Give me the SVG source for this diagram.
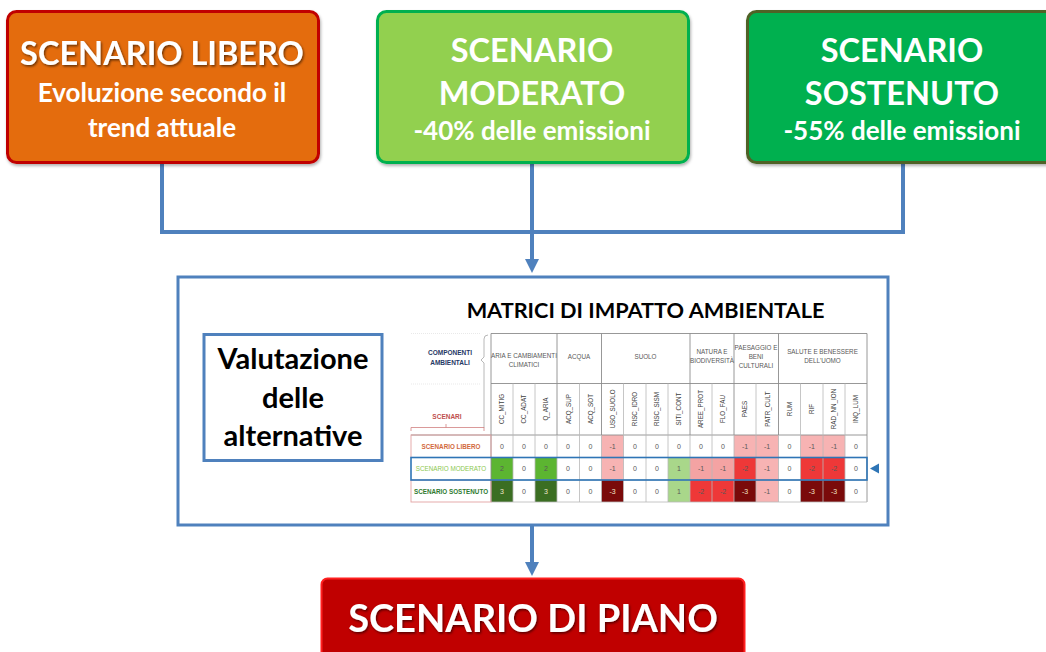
<svg xmlns="http://www.w3.org/2000/svg" width="1046" height="652" viewBox="0 0 1046 652">
<defs>
<style>
.big{font-family:Lato,"Open Sans","Liberation Sans",sans-serif;font-weight:700;fill:#fff;text-anchor:middle}
.t1{font-size:32.5px}
.t2{font-size:26px}
.blk{font-family:Lato,"Open Sans","Liberation Sans",sans-serif;font-weight:700;fill:#000;text-anchor:middle}
.conn{stroke:#4F81BD;stroke-width:4;fill:none}
.sm{font-family:"Liberation Sans",Arial,sans-serif;font-size:6.3px;fill:#595959;text-anchor:middle}
.rot{font-family:"Liberation Sans",Arial,sans-serif;font-size:6.3px;fill:#404040;text-anchor:middle}
.val{font-family:"Liberation Sans",Arial,sans-serif;font-size:7px;fill:#595959;text-anchor:middle}
.vl{fill:#F2E6C8}
.g{stroke:#B8B8B8;stroke-width:0.8;fill:none}
.gd{stroke:#8C8C8C;stroke-width:0.9;fill:none}
.m1{fill:#F7B3B3}.m2{fill:#EE3838}.m3{fill:#7A0A0A}
.p1{fill:#A9D78A}.p2{fill:#5CB531}.p3{fill:#3B6E22}
</style>
<filter id="ts" x="-10%" y="-20%" width="120%" height="140%">
<feDropShadow dx="1.2" dy="1.5" stdDeviation="1" flood-color="#000" flood-opacity="0.55"/>
</filter>
<filter id="bs" x="-5%" y="-5%" width="110%" height="115%">
<feDropShadow dx="1" dy="2" stdDeviation="1.5" flood-color="#000" flood-opacity="0.3"/>
</filter>
<marker id="ah" viewBox="0 0 14 14" refX="0" refY="7" markerWidth="14" markerHeight="14" markerUnits="userSpaceOnUse" orient="auto">
<path d="M0,0 L14,7 L0,14 z" fill="#4F81BD"/>
</marker>
</defs>
<rect width="1046" height="652" fill="#fff"/>

<g id="connectors">
<path class="conn" d="M162,163 V232 H903 V163"/>
<path class="conn" d="M532,163 V259" marker-end="url(#ah)"/>
<path class="conn" d="M532,526 V562" marker-end="url(#ah)"/>
</g>

<g id="scenario-libero">
<rect x="7.5" y="11.5" width="311" height="151" rx="9" fill="#E46C0A" stroke="#C00000" stroke-width="3" filter="url(#bs)"/>
<text class="big t1" x="162" y="65" filter="url(#ts)">SCENARIO LIBERO</text>
<text class="big t2" x="162" y="102">Evoluzione secondo il</text>
<text class="big t2" x="162" y="137">trend attuale</text>
</g>

<g id="scenario-moderato">
<rect x="377.5" y="11.5" width="311" height="151" rx="9" fill="#92D050" stroke="#00B050" stroke-width="3" filter="url(#bs)"/>
<text class="big t1" x="532" y="62">SCENARIO</text>
<text class="big t1" x="532" y="105">MODERATO</text>
<text class="big t2" x="532" y="140">-40% delle emissioni</text>
</g>

<g id="scenario-sostenuto">
<rect x="747.5" y="11.5" width="311" height="151" rx="9" fill="#00B050" stroke="#4F6228" stroke-width="3" filter="url(#bs)"/>
<text class="big t1" x="902" y="62">SCENARIO</text>
<text class="big t1" x="902" y="105">SOSTENUTO</text>
<text class="big t2" x="902" y="140">-55% delle emissioni</text>
</g>

<g id="valutazione-container">
<rect x="178" y="277" width="710" height="248" fill="#fff" stroke="#4F81BD" stroke-width="3"/>
</g>

<g id="valutazione-alternative">
<rect x="204" y="334.5" width="178" height="126" fill="#fff" stroke="#4F81BD" stroke-width="3"/>
<text class="blk" x="293" y="369" font-size="29">Valutazione</text>
<text class="blk" x="293" y="408" font-size="29">delle</text>
<text class="blk" x="293" y="446" font-size="29">alternative</text>
</g>

<g id="matrice">
<text class="blk" x="645.5" y="318" font-size="21.7">MATRICI DI IMPATTO AMBIENTALE</text>

<!-- left header labels -->
<text x="450" y="355" font-family="'Liberation Sans',Arial,sans-serif" font-size="6.5" font-weight="700" fill="#1F3864" text-anchor="middle">COMPONENTI</text>
<text x="450" y="365" font-family="'Liberation Sans',Arial,sans-serif" font-size="6.5" font-weight="700" fill="#1F3864" text-anchor="middle">AMBIENTALI</text>
<path d="M488,335 Q484,335 484,339 V357 L481,360 L484,363 V428" stroke="#A6A6A6" stroke-width="0.8" fill="none"/>
<text x="447" y="419" font-family="'Liberation Sans',Arial,sans-serif" font-size="6.5" font-weight="700" fill="#C0504D" text-anchor="middle">SCENARI</text>
<path d="M411,431 V427.5 H484 V431 M446,427.5 V424" stroke="#D08080" stroke-width="0.8" fill="none"/>
<path d="M411,333.5 H481 M411,384 H481" stroke="#E0E0E0" stroke-width="0.7" stroke-dasharray="1,1" fill="none"/>

<!-- data cell fills -->
<g id="cells">
<rect class="m1" x="601.5" y="435" width="22" height="22.5"/>
<rect class="m1" x="734" y="435" width="22" height="22.5"/>
<rect class="m1" x="756" y="435" width="22.5" height="22.5"/>
<rect class="m1" x="800.5" y="435" width="22.5" height="22.5"/>
<rect class="m1" x="823" y="435" width="22" height="22.5"/>
<rect class="p2" x="491" y="457.5" width="22" height="22.5"/>
<rect class="p2" x="535" y="457.5" width="22" height="22.5"/>
<rect class="m1" x="601.5" y="457.5" width="22" height="22.5"/>
<rect class="p1" x="668" y="457.5" width="22" height="22.5"/>
<rect fill="#F4A3A3" x="690" y="457.5" width="22" height="22.5"/>
<rect fill="#F4A3A3" x="712" y="457.5" width="22" height="22.5"/>
<rect class="m2" x="734" y="457.5" width="22" height="22.5"/>
<rect class="m1" x="756" y="457.5" width="22.5" height="22.5"/>
<rect class="m2" x="800.5" y="457.5" width="22.5" height="22.5"/>
<rect class="m2" x="823" y="457.5" width="22" height="22.5"/>
<rect class="p3" x="491" y="480" width="22" height="22"/>
<rect class="p3" x="535" y="480" width="22" height="22"/>
<rect class="m3" x="601.5" y="480" width="22" height="22"/>
<rect class="p1" x="668" y="480" width="22" height="22"/>
<rect class="m2" x="690" y="480" width="22" height="22"/>
<rect class="m2" x="712" y="480" width="22" height="22"/>
<rect class="m3" x="734" y="480" width="22" height="22"/>
<rect class="m1" x="756" y="480" width="22.5" height="22"/>
<rect class="m3" x="800.5" y="480" width="22.5" height="22"/>
<rect class="m3" x="823" y="480" width="22" height="22"/>
</g>

<!-- grid -->
<g id="grid">
<path class="gd" d="M491,333.5 H867 M491,383.5 H867 M411,435 H867 M491,333.5 V502 M867,333.5 V502"/>
<path class="gd" d="M557,333.5 V435 M601.5,333.5 V435 M690,333.5 V435 M734,333.5 V435 M778.5,333.5 V435"/>
<path class="g" d="M513,383.5 V502 M535,383.5 V502 M557,435 V502 M579.5,383.5 V502 M601.5,435 V502 M623.5,383.5 V502 M646,383.5 V502 M668,383.5 V502 M690,435 V502 M712,383.5 V502 M734,435 V502 M756,383.5 V502 M778.5,435 V502 M800.5,383.5 V502 M823,383.5 V502 M845,383.5 V502"/>
<path class="g" d="M491,457.5 H867 M491,480 H867 M491,502 H867"/>
<rect x="411" y="435" width="80" height="22.5" fill="none" stroke="#E3A3A3" stroke-width="0.9"/>
<rect x="411" y="480" width="80" height="22" fill="none" stroke="#E3A3A3" stroke-width="0.9"/>
<rect x="411" y="457.5" width="456" height="22.5" fill="none" stroke="#2E75B6" stroke-width="1.6"/>
</g>

<!-- group headers -->
<g id="group-headers">
<text class="sm" x="524" y="358">ARIA E CAMBIAMENTI</text>
<text class="sm" x="524" y="367">CLIMATICI</text>
<text class="sm" x="579" y="359">ACQUA</text>
<text class="sm" x="645.5" y="359">SUOLO</text>
<text class="sm" x="712" y="354">NATURA E</text>
<text class="sm" x="712" y="363">BIODIVERSITÀ</text>
<text class="sm" x="756" y="350">PAESAGGIO E</text>
<text class="sm" x="756" y="359">BENI</text>
<text class="sm" x="756" y="368">CULTURALI</text>
<text class="sm" x="822.5" y="354">SALUTE E BENESSERE</text>
<text class="sm" x="822.5" y="363">DELL'UOMO</text>
</g>

<!-- column headers -->
<g id="column-headers">
<text class="rot" transform="translate(504.3,409) rotate(-90)">CC_MITIG</text>
<text class="rot" transform="translate(526.3,409) rotate(-90)">CC_ADAT</text>
<text class="rot" transform="translate(548.3,409) rotate(-90)">Q_ARIA</text>
<text class="rot" transform="translate(570.5,409) rotate(-90)">ACQ_SUP</text>
<text class="rot" transform="translate(592.8,409) rotate(-90)">ACQ_SOT</text>
<text class="rot" transform="translate(614.8,409) rotate(-90)">USO_SUOLO</text>
<text class="rot" transform="translate(637,409) rotate(-90)">RISC_IDRO</text>
<text class="rot" transform="translate(659.3,409) rotate(-90)">RISC_SISM</text>
<text class="rot" transform="translate(681.3,409) rotate(-90)">SITI_CONT</text>
<text class="rot" transform="translate(703.3,409) rotate(-90)">AREE_PROT</text>
<text class="rot" transform="translate(725.3,409) rotate(-90)">FLO_FAU</text>
<text class="rot" transform="translate(747.3,409) rotate(-90)">PAES</text>
<text class="rot" transform="translate(769.5,409) rotate(-90)">PATR_CULT</text>
<text class="rot" transform="translate(791.8,409) rotate(-90)">RUM</text>
<text class="rot" transform="translate(814,409) rotate(-90)">RIF</text>
<text class="rot" transform="translate(836.3,409) rotate(-90)">RAD_NN_ION</text>
<text class="rot" transform="translate(858.3,409) rotate(-90)">INQ_LUM</text>
</g>

<!-- row labels -->
<g id="row-labels" font-family="'Liberation Sans',Arial,sans-serif" font-size="6.3" font-weight="700" text-anchor="middle">
<text x="451" y="448.5" fill="#D2693C">SCENARIO LIBERO</text>
<text x="451" y="471" fill="#8CC850" font-weight="400">SCENARIO MODERATO</text>
<text x="451" y="493.5" fill="#2F7A2F">SCENARIO SOSTENUTO</text>
</g>

<!-- values -->
<g id="values">
<text class="val" x="502" y="448.5">0</text><text class="val" x="524" y="448.5">0</text><text class="val" x="546" y="448.5">0</text><text class="val" x="568" y="448.5">0</text><text class="val" x="590.5" y="448.5">0</text><text class="val" x="612.5" y="448.5">-1</text><text class="val" x="635" y="448.5">0</text><text class="val" x="657" y="448.5">0</text><text class="val" x="679" y="448.5">0</text><text class="val" x="701" y="448.5">0</text><text class="val" x="723" y="448.5">0</text><text class="val" x="745" y="448.5">-1</text><text class="val" x="767" y="448.5">-1</text><text class="val" x="789.5" y="448.5">0</text><text class="val" x="811.8" y="448.5">-1</text><text class="val" x="834" y="448.5">-1</text><text class="val" x="856" y="448.5">0</text>
<text class="val" x="502" y="471">2</text><text class="val" x="524" y="471">0</text><text class="val" x="546" y="471">2</text><text class="val" x="568" y="471">0</text><text class="val" x="590.5" y="471">0</text><text class="val" x="612.5" y="471">-1</text><text class="val" x="635" y="471">0</text><text class="val" x="657" y="471">0</text><text class="val" x="679" y="471">1</text><text class="val" x="701" y="471">-1</text><text class="val" x="723" y="471">-1</text><text class="val" x="745" y="471">-2</text><text class="val" x="767" y="471">-1</text><text class="val" x="789.5" y="471">0</text><text class="val" x="811.8" y="471">-2</text><text class="val" x="834" y="471">-2</text><text class="val" x="856" y="471">0</text>
<text class="val vl" x="502" y="493.5">3</text><text class="val" x="524" y="493.5">0</text><text class="val vl" x="546" y="493.5">3</text><text class="val" x="568" y="493.5">0</text><text class="val" x="590.5" y="493.5">0</text><text class="val vl" x="612.5" y="493.5">-3</text><text class="val" x="635" y="493.5">0</text><text class="val" x="657" y="493.5">0</text><text class="val" x="679" y="493.5">1</text><text class="val" x="701" y="493.5">-2</text><text class="val" x="723" y="493.5">-2</text><text class="val vl" x="745" y="493.5">-3</text><text class="val" x="767" y="493.5">-1</text><text class="val" x="789.5" y="493.5">0</text><text class="val vl" x="811.8" y="493.5">-3</text><text class="val vl" x="834" y="493.5">-3</text><text class="val" x="856" y="493.5">0</text>
</g>

<path id="pointer" d="M870,468.5 L879,463.5 L879,473.5 z" fill="#2E75B6"/>
</g>

<g id="scenario-di-piano">
<rect x="321.5" y="578.5" width="423" height="90" rx="6" fill="#C00000" stroke="#FF2020" stroke-width="2"/>
<text class="big" x="533" y="632" font-size="38" filter="url(#ts)">SCENARIO DI PIANO</text>
</g>
</svg>
